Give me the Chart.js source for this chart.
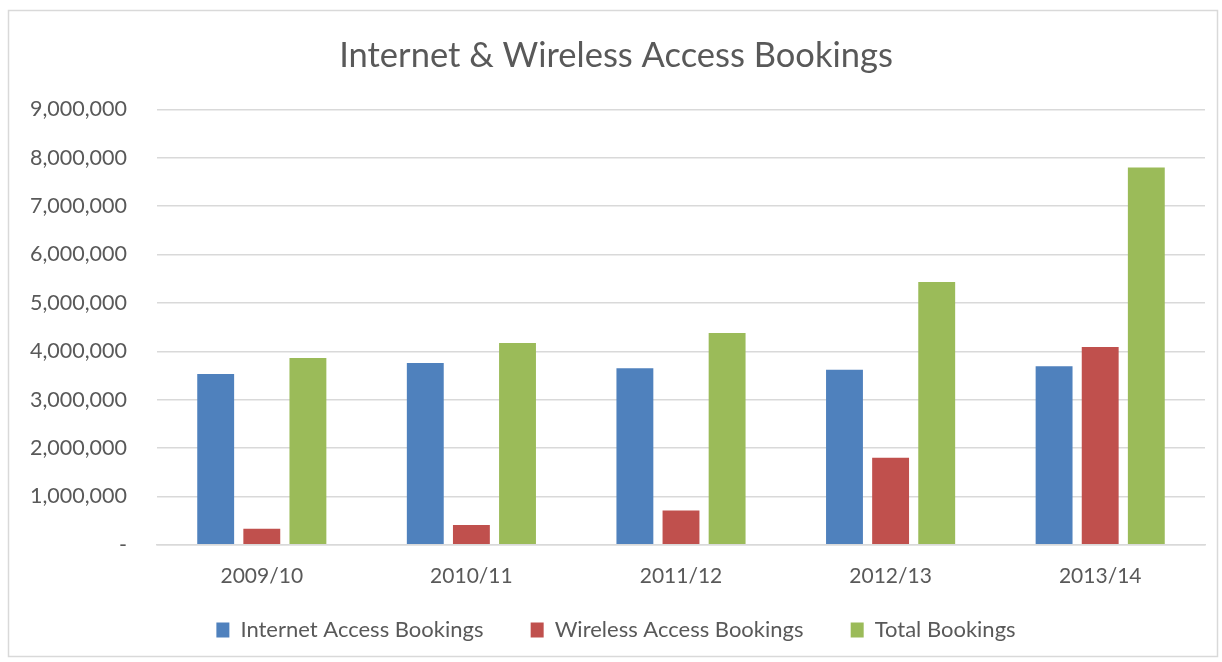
<!DOCTYPE html>
<html>
<head>
<meta charset="utf-8">
<script src="https://cdn.jsdelivr.net/npm/chart.js@4/dist/chart.umd.min.js"></script>
<style>
    html, body { margin: 0; padding: 0; background: #fff; }
    #wrap { width: 1222px; height: 662px; position: relative; }
</style>
</head>
<body>
<div id="wrap"><canvas id="bookingsChart" width="1222" height="662"></canvas></div>
<script>
// values
const years = ['2009/10', '2010/11', '2011/12', '2012/13', '2013/14'];
const internetBookings = [3530000, 3760000, 3650000, 3620000, 3690000];
const wirelessBookings = [330000, 410000, 710000, 1800000, 4090000];
const totalBookings = [3860000, 4170000, 4380000, 5430000, 7800000];

const textColor = '#595959';
const fontFamily = 'Lato, "Open Sans", sans-serif';

// thin grey frame round the whole chart, like the office chart border
const chartFrame = {
    id: 'chartFrame',
    beforeDraw(chart) {
        const ctx = chart.ctx;
        ctx.save();
        ctx.fillStyle = '#fff';
        ctx.fillRect(0, 0, chart.width, chart.height);
        ctx.strokeStyle = '#d9d9d9';
        ctx.lineWidth = 1.5;
        ctx.strokeRect(8.5, 10.5, 1209, 646);
        ctx.restore();
    }
};

(function() {
    const canvas = document.getElementById('bookingsChart');

    new Chart(canvas, {
        type: 'bar',
        plugins: [ chartFrame ],
        data: {
            labels: years,
            datasets: [
                {
                    label: 'Internet Access Bookings',
                    data: internetBookings,
                    backgroundColor: '#4f81bd',
                },
                {
                    label: 'Wireless Access Bookings',
                    data: wirelessBookings,
                    backgroundColor: '#c0504d',
                },
                {
                    label: 'Total Bookings',
                    data: totalBookings,
                    backgroundColor: '#9bbb59',
                }
            ]
        },
        options: {
            responsive: false,
            animation: false,
            devicePixelRatio: 1,
            categoryPercentage: 0.66,
            barPercentage: 0.8,
            layout: {
                padding: { top: 35, right: 17, bottom: 11, left: 27 }
            },
            plugins: {
                title: {
                    display: true,
                    text: 'Internet & Wireless Access Bookings',
                    color: textColor,
                    font: { family: fontFamily, size: 34.5, weight: 'normal' },
                    padding: { top: 0, bottom: 33 }
                },
                legend: {
                    position: 'bottom',
                    labels: {
                        color: textColor,
                        font: { family: fontFamily, size: 22 },
                        boxWidth: 13,
                        boxHeight: 15,
                        padding: 19,
                        // a little extra room after the first two entries, the gap is wider than it is tall
                        generateLabels: chart => Chart.defaults.plugins.legend.labels.generateLabels(chart)
                            .map((item, i, all) => {
                                if (i < all.length - 1) item.text += '     ';
                                return item;
                            })
                    }
                },
                tooltip: { enabled: false }
            },
            scales: {
                x: {
                    grid: { display: false },
                    border: { color: '#d9d9d9', width: 1.5 },
                    ticks: {
                        color: textColor,
                        font: { family: fontFamily, size: 21 },
                        padding: 11
                    }
                },
                y: {
                    min: 0,
                    max: 9000000,
                    afterFit: scale => { scale.width = 130; },
                    grid: { color: '#d9d9d9', lineWidth: 1.5, drawTicks: false },
                    border: { display: false },
                    ticks: {
                        stepSize: 1000000,
                        color: textColor,
                        font: { family: fontFamily, size: 21.5 },
                        padding: 30,
                        callback: value => value === 0 ? '-' : value.toLocaleString('en-US')
                    }
                }
            }
        }
    });
})();
</script>
</body>
</html>
